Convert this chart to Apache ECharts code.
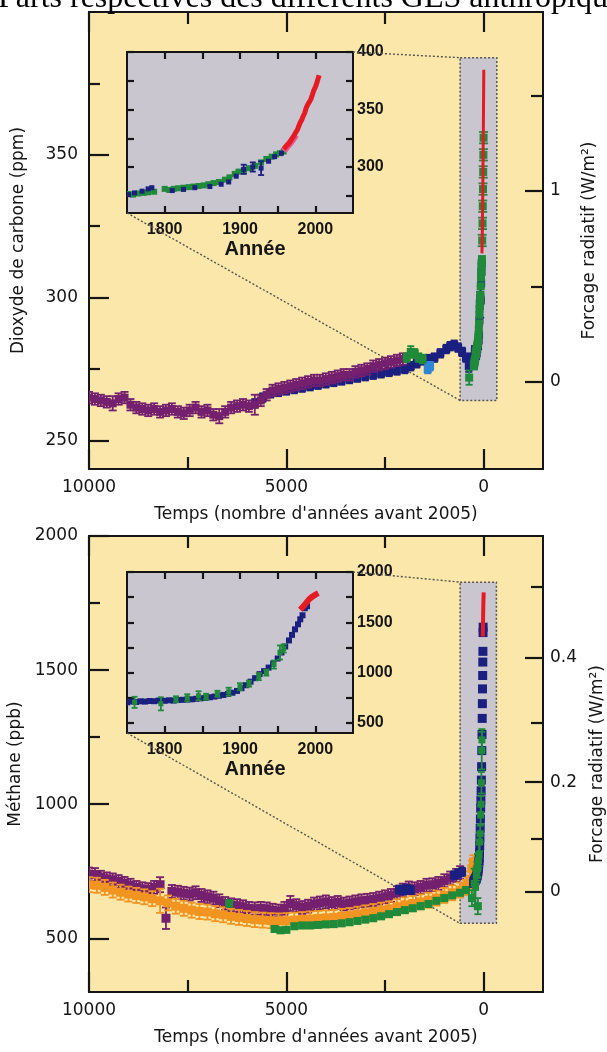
<!DOCTYPE html>
<html><head><meta charset="utf-8">
<script src="https://cdn.jsdelivr.net/npm/echarts@6/dist/echarts.min.js"></script>
<style>html,body{margin:0;padding:0;background:#fff}#c{width:607px;height:1052px}</style>
</head><body><div id="c"></div>
<script>
// ---------------- data ----------------
const titleText = 'Parts respectives des différents GES anthropiques';
const refYear = 2005;
const timeRange = [-1500, 10000];
const timeTicksMajor = [10000, 5000, 0];
const timeTicksMinor = [7500, 2500];
const timeLabels = [10000, 5000, 0];

const co2Range = [240, 400];
const co2TicksMajor = [250, 300, 350];
const co2TicksMinor = [275, 325, 375];
const co2ForcingRange = [-0.455, 1.937];
const co2ForcingMajor = [0, 1];
const co2ForcingMinor = [0.5, 1.5];

const ch4Range = [300, 2000];
const ch4TicksMajor = [500, 1000, 1500, 2000];
const ch4TicksMinor = [750, 1250, 1750];
const ch4ForcingValues = [0, 0.1, 0.2, 0.3, 0.4, 0.5];
const ch4ForcingAtPpb = [675, 873, 1082, 1302, 1545, 1810];

const insetYears = [1750, 2050];
const insetYearTicks = [1800, 1850, 1900, 1950, 2000];
const insetYearLabels = [1800, 1900, 2000];
const co2InsetRange = [260, 400];
const co2InsetTicks = [275, 300, 325, 350, 375, 400];
const co2InsetLabels = [300, 350, 400];
const ch4InsetRange = [400, 2000];
const ch4InsetTicks = [500, 750, 1000, 1250, 1500, 1750, 2000];
const ch4InsetLabels = [500, 1000, 1500, 2000];

const co2ZoomBox = [600, 384, -330, 264];   // BP, ppm
const ch4ZoomBox = [600, 1828, -320, 556];  // BP, ppb

// CO2, main panel: [years before 2005, ppm, error]
const co2MainPurple = [[10000,265,2],[9850,264.5,2],[9700,264,2],[9550,263.5,2],[9400,263,2.5],[9250,264.5,2],[9100,265,2],[8950,262.5,2],[8800,261.5,2],[8650,261,2],[8500,260.5,2],[8350,261,2],[8200,260,2],[8050,260.5,2],[7900,261,2],[7750,260,2],[7600,259.5,2],[7450,260.5,2],[7300,261.5,2],[7150,260,2],[7000,260.5,2],[6850,259,2],[6700,258.5,2.5],[6550,260,2],[6400,261.5,2],[6250,262,2],[6100,262.5,2],[5950,262,2],[5800,262.5,3.5],[5650,264,2],[5500,266,2],[5350,267.5,2],[5200,268,2],[5050,268.5,2],[4900,269,2],[4750,269.5,2],[4600,270,2],[4450,270.5,2],[4300,271,2],[4150,271,2],[4000,271.5,2],[3850,272,2],[3700,272.5,2],[3550,273,2],[3400,273,2],[3250,274,2],[3100,274.5,2],[2950,275,2],[2800,276,2],[2650,276.5,2],[2500,277,2],[2350,277.5,2],[2200,278,2],[2050,278.5,2]];
const co2MainNavy = [[5800,263,1.5],[5600,265,1.5],[5400,266.5,1.5],[5200,267,1.5],[5000,267.5,1.5],[4800,268,1.5],[4600,268.5,1.5],[4400,269,1.5],[4200,269.5,1.5],[4000,270,1.5],[3800,270.5,1.5],[3600,271,1.5],[3400,271.5,1.5],[3200,272,1.5],[3000,272.5,1.5],[2800,273,1.5],[2600,273.5,1.5],[2400,274,1.5],[2200,274.5,1.5],[2000,275,1.5],[1850,276,1.5],[1700,277,1.5],[1550,278,1.5],[1400,278.5,1.5],[1250,279,1.5],[1100,280.5,1.5],[950,282,1.5],[850,283,1.5],[750,283.5,1.5],[650,282.5,1.5],[550,281,1.5],[450,279,1.5],[380,276,2],[330,278,1.5],[280,279,1.5]];
const co2MainGreen = [[1950,279,1.5],[1850,281,2],[1750,280.5,1.5],[1650,279,1.5],[1550,278.5,1.5],[370,272,2.5]];
const co2MainLightBlue = [[1420,275,1.5],[1360,276,1.5]];
const co2MainGreenFirn = [[40,320,2],[32,326,2],[26,332,2],[20,338,2],[15,344,2],[10,350,2],[5,356,2]];

// CO2, inset: [year, ppm, error]
const co2InsetGreen = [[1752,276.5],[1758,276],[1765,277],[1772,277.5],[1778,278],[1786,278.5],[1800,281],[1806,280],[1812,281],[1818,281.5],[1825,282],[1832,282.5],[1838,283],[1845,283.5],[1852,284],[1858,285],[1865,286],[1872,287],[1880,289],[1886,291],[1893,294],[1898,296],[1905,297],[1912,299],[1920,301],[1928,304],[1935,307],[1942,309],[1948,311],[1953,312],[1958,313.5]];
const co2InsetNavy = [[1752,276],[1760,277.5],[1770,279],[1778,281],[1783,282],[1810,279.5],[1825,280.5],[1840,282],[1860,283],[1875,285],[1885,287],[1895,292],[1905,298,4],[1917,300,4],[1928,299,6],[1938,305],[1946,309],[1955,312]];
const co2InsetPink = [[1958,314],[1962,317.5],[1966,320.5],[1970,324],[1974,328]];
const co2InsetRed = [[1958,315.5],[1960,316.9],[1962,318.5],[1964,319.6],[1966,321.4],[1968,323],[1970,325.7],[1972,327.5],[1974,330.2],[1976,332.1],[1978,335.4],[1980,338.7],[1982,341.1],[1984,344.4],[1986,347.2],[1988,351.6],[1990,354.4],[1992,356.4],[1994,358.8],[1996,362.6],[1998,366.7],[2000,369.4],[2002,373.2],[2004,377.5],[2005,379.8]];

// CH4, main panel: [years before 2005, ppb, error]
const ch4MainPurple = [[10000,740,24],[9850,738,24],[9700,728,24],[9550,722,24],[9400,718,24],[9250,712,24],[9100,705,24],[8950,698,24],[8800,690,24],[8650,685,24],[8500,682,24],[8350,690,24],[8200,700,28],[8050,575,40],[7900,675,24],[7750,672,24],[7600,668,24],[7450,665,24],[7300,670,24],[7150,660,24],[7000,655,24],[6850,650,24],[6700,640,24],[6550,630,24],[6400,625,24],[6250,622,24],[6100,618,24],[5950,612,24],[5800,610,24],[5650,612,24],[5500,610,24],[5350,605,24],[5200,602,24],[5050,612,24],[4900,630,28],[4750,622,24],[4600,615,24],[4450,620,24],[4300,628,24],[4150,632,24],[4000,636,24],[3850,630,24],[3700,634,24],[3550,628,24],[3400,632,24],[3250,636,24],[3100,640,24],[2950,642,24],[2800,645,24],[2650,650,24],[2500,655,24],[2350,660,24],[2200,670,24],[2050,680,24],[1900,688,24],[1750,685,24],[1600,690,24],[1450,698,24],[1300,700,24],[1150,705,24],[1000,715,24],[850,725,24],[700,735,24],[600,745,24]];
const ch4MainOrange = [[10000,700,28],[9800,698,28],[9600,690,28],[9400,680,28],[9200,672,28],[9000,665,28],[8800,660,28],[8600,655,28],[8400,648,28],[8200,640,45],[8000,632,28],[7800,620,28],[7600,612,28],[7400,605,28],[7200,600,28],[7000,598,28],[6800,592,28],[6600,588,28],[6400,582,28],[6200,578,28],[6000,574,28],[5800,570,28],[5600,568,28],[5400,566,28],[5200,565,28],[5000,566,28],[4800,568,28],[4600,570,28],[4400,572,28],[4200,574,28],[4000,576,28],[3800,578,28],[3600,582,28],[3400,585,28],[3200,590,28],[3000,595,28],[2800,600,28],[2600,605,28],[2400,610,28],[2200,618,28],[2000,625,28],[1800,630,28],[1600,636,28],[1400,642,28],[1200,650,28],[1000,660,28],[800,670,28],[600,680,28],[450,690,28],[400,700,28],[350,720,30],[300,760,30],[260,785,25]];
const ch4MainGreen = [[6450,630,12],[5300,535,10],[5150,530,10],[5000,532,10],[4800,545,10],[4600,548,10],[4400,548,10],[4200,550,10],[4000,552,10],[3800,553,10],[3600,556,10],[3400,560,10],[3200,565,10],[3000,570,10],[2800,575,10],[2600,582,10],[2400,590,10],[2200,598,10],[2000,605,10],[1800,612,10],[1600,620,10],[1400,628,10],[1200,640,10],[1000,650,10],[800,660,10],[600,670,10],[450,680,10],[300,650,30],[150,620,30]];
const ch4MainNavy = [[2150,682,15],[2050,678,15],[1950,685,15],[1850,680,15],[750,735,15],[650,742,15],[550,748,15]];

// CH4, inset: [year, ppb, error]
const ch4InsetNavy = [[1750,705],[1756,712],[1762,708],[1768,715],[1774,712],[1780,718],[1786,716],[1792,722],[1800,720],[1806,725],[1812,722],[1818,728],[1824,730],[1830,732],[1836,735],[1842,740],[1848,745],[1854,748],[1860,755],[1866,762],[1872,770],[1878,778],[1884,788],[1890,800],[1896,818],[1902,845],[1908,875],[1914,910],[1920,945],[1926,985],[1932,1015],[1938,1050],[1944,1090],[1950,1140],[1955,1200],[1960,1260],[1965,1320],[1969,1375],[1973,1430],[1977,1480],[1980,1530],[1983,1570],[1986,1640],[1989,1660]];
const ch4InsetGreen = [[1760,705,55],[1795,690,65],[1815,735,30],[1830,750,35],[1845,770,45],[1855,760,30],[1870,790,30],[1885,810,40],[1900,860,35],[1912,890,30],[1925,960,35],[1935,1000,30],[1945,1080,40],[1953,1200,70],[1958,1240,40]];
const ch4InsetRed = [[1980,1625],[1983,1650],[1986,1675],[1988,1695],[1990,1712],[1992,1730],[1994,1745],[1996,1755],[1998,1765],[2000,1775],[2002,1785],[2004,1790]];

// ---------------- colours / helpers ----------------
const C = {purple:'#74206f', navy:'#1b1f80', green:'#1e8a3a', red:'#e51b24', pink:'#e85a8c',
  orange:'#f29420', lblue:'#2f86d6', ink:'#151515', plot:'#fae7a9', inset:'#c9c6d0'};
const sans = '"DejaVu Sans", sans-serif';
const bold = '"Liberation Sans", Arial, sans-serif';

function toBP(arr) { return arr.map(d => [refYear - d[0], d[1], d[2] || 0]); }
function norm(arr) { return arr.map(d => [d[0], d[1], d[2] || 0]); }

function errSeries(name, data, xi, yi, color, size, cap, z) {
  return {
    type: 'custom', name, xAxisIndex: xi, yAxisIndex: yi, z: z || 3, clip: true,
    data: data, encode: {x: 0, y: 1},
    renderItem: function (params, api) {
      const x = api.value(0), y = api.value(1), e = api.value(2);
      const p = api.coord([x, y]);
      const ch = [];
      if (e > 0) {
        const t = api.coord([x, y + e]), b = api.coord([x, y - e]);
        const st = {stroke: color, lineWidth: 1.8};
        ch.push({type:'line', shape:{x1:p[0], y1:t[1], x2:p[0], y2:b[1]}, style: st});
        ch.push({type:'line', shape:{x1:p[0]-cap/2, y1:t[1], x2:p[0]+cap/2, y2:t[1]}, style: st});
        ch.push({type:'line', shape:{x1:p[0]-cap/2, y1:b[1], x2:p[0]+cap/2, y2:b[1]}, style: st});
      }
      ch.push({type:'rect', shape:{x:p[0]-size/2, y:p[1]-size/2, width:size, height:size}, style:{fill: color}});
      return {type:'group', children: ch};
    }
  };
}
function boxSeries(box, xi, yi) {
  return {
    type:'custom', xAxisIndex: xi, yAxisIndex: yi, z: 1, clip: true,
    data: [box], encode: {x:[0,2], y:[1,3]},
    renderItem: function (params, api) {
      const a = api.coord([api.value(0), api.value(1)]);
      const b = api.coord([api.value(2), api.value(3)]);
      return {type:'rect', shape:{x:a[0], y:a[1], width:b[0]-a[0], height:b[1]-a[1]},
        style:{fill: C.inset, stroke:'#555', lineWidth:1.5, lineDash:[2,2]}};
    }
  };
}
function lineSeries(data, xi, yi, color, w, z) {
  return {type:'line', xAxisIndex: xi, yAxisIndex: yi, data: data.map(d => [d[0], d[1]]),
    showSymbol:false, symbol:'none', lineStyle:{color, width:w}, z: z || 5, clip: true};
}

function tickAxis(grid, pos, range, ticks, len, extra) {
  return Object.assign({
    gridIndex: grid, type:'value', position: pos, min: range[0], max: range[1],
    axisLine:{show:false, onZero:false}, splitLine:{show:false},
    axisTick:{show:true, inside:true, length:len, customValues: ticks, lineStyle:{color:C.ink, width:2.2}},
    axisLabel:{show:false}
  }, extra || {});
}
const plain = v => String(v);
function labelCfg(values, font, size, weight, margin, formatter) {
  return {show:true, customValues: values, fontFamily: font, fontSize: size, fontWeight: weight,
    color: C.ink, margin: margin, formatter: formatter || plain};
}

const xAxes = [], yAxes = [];
function mainAxes(grid, yRange, yMaj, yMin, yName, rRange, rMaj, rMin, rLabels, rFmt, rGap) {
  const tName = 'Temps (nombre d\'années avant 2005)';
  xAxes.push(tickAxis(grid, 'bottom', timeRange, timeTicksMajor, 20, {inverse:true,
    axisLabel: labelCfg(timeLabels, sans, 17, 'normal', 10),
    name: tName, nameLocation:'middle', nameGap: 37,
    nameTextStyle:{fontFamily: sans, fontSize: 17, color: C.ink, verticalAlign:'top'}}));
  xAxes.push(tickAxis(grid, 'bottom', timeRange, timeTicksMinor, 12, {inverse:true}));
  xAxes.push(tickAxis(grid, 'top', timeRange, timeTicksMajor, 20, {inverse:true}));
  xAxes.push(tickAxis(grid, 'top', timeRange, timeTicksMinor, 12, {inverse:true}));
  yAxes.push(tickAxis(grid, 'left', yRange, yMaj, 20, {
    axisLabel: labelCfg(yMaj, sans, 17, 'normal', 11),
    name: yName, nameLocation:'middle', nameGap: 62, nameRotate: 90,
    nameTextStyle:{fontFamily: sans, fontSize: 17, color: C.ink}}));
  yAxes.push(tickAxis(grid, 'left', yRange, yMin, 11));
  yAxes.push(tickAxis(grid, 'right', rRange, rMaj, 18, {
    axisLabel: labelCfg(rLabels, sans, 17, 'normal', 7, rFmt),
    name: 'Forcage radiatif (W/m²)', nameLocation:'middle', nameGap: rGap, nameRotate: 90,
    nameTextStyle:{fontFamily: sans, fontSize: 17, color: C.ink}}));
  yAxes.push(tickAxis(grid, 'right', rRange, rMin, 12));
}
function insetAxes(grid, yRange, yTicks, yLabels) {
  xAxes.push(tickAxis(grid, 'bottom', insetYears, insetYearTicks, 7, {
    axisLabel: labelCfg(insetYearLabels, bold, 16, 'bold', 9),
    name: 'Année', nameLocation:'middle', nameGap: 26,
    nameTextStyle:{fontFamily: bold, fontSize: 20, fontWeight:'bold', color: C.ink, verticalAlign:'top', padding:[0,0,0,30]}}));
  xAxes.push(tickAxis(grid, 'top', insetYears, insetYearTicks, 7));
  yAxes.push(tickAxis(grid, 'right', yRange, yTicks, 7, {
    axisLabel: labelCfg(yLabels, bold, 16, 'bold', 4)}));
  yAxes.push(tickAxis(grid, 'left', yRange, yTicks, 7));
}

// axis index layout: grid0 -> x0..3,y0..3 ; grid1 -> x4,5 y4,5 ; grid2 -> x6..9,y6..9 ; grid3 -> x10,11 y10,11
mainAxes(0, co2Range, co2TicksMajor, co2TicksMinor, 'Dioxyde de carbone (ppm)',
  co2ForcingRange, co2ForcingMajor, co2ForcingMinor, co2ForcingMajor, null, 38);
insetAxes(1, co2InsetRange, co2InsetTicks, co2InsetLabels);
const ch4Fmt = v => { const i = ch4ForcingAtPpb.indexOf(v); return i >= 0 ? String(ch4ForcingValues[i]) : ''; };
mainAxes(2, ch4Range, ch4TicksMajor, ch4TicksMinor, 'Méthane (ppb)',
  ch4Range, [ch4ForcingAtPpb[0], ch4ForcingAtPpb[2], ch4ForcingAtPpb[4]],
  [ch4ForcingAtPpb[1], ch4ForcingAtPpb[3], ch4ForcingAtPpb[5]],
  [ch4ForcingAtPpb[0], ch4ForcingAtPpb[2], ch4ForcingAtPpb[4]], ch4Fmt, 46);
insetAxes(3, ch4InsetRange, ch4InsetTicks, ch4InsetLabels);

const gridStyle = {show:true, borderColor: C.ink, borderWidth: 2, containLabel:false, outerBoundsMode:'none'};
const grids = [
  Object.assign({left: 89, top: 12, width: 454, height: 457, backgroundColor: C.plot}, gridStyle),
  Object.assign({left: 127, top: 52, width: 226, height: 161, backgroundColor: C.inset}, gridStyle),
  Object.assign({left: 89, top: 536, width: 454, height: 456, backgroundColor: C.plot}, gridStyle),
  Object.assign({left: 127, top: 572, width: 226, height: 161, backgroundColor: C.inset}, gridStyle)
];

const series = [
  // CO2 main
  boxSeries(co2ZoomBox, 0, 0),
  errSeries('co2 navy', norm(co2MainNavy), 0, 0, C.navy, 8, 7),
  errSeries('co2 purple', norm(co2MainPurple), 0, 0, C.purple, 8, 8),
  errSeries('co2 green', norm(co2MainGreen), 0, 0, C.green, 8, 7),
  errSeries('co2 lblue', norm(co2MainLightBlue), 0, 0, C.lblue, 8, 7),
  errSeries('co2 spike navy', toBP(co2InsetNavy), 0, 0, C.navy, 8, 7),
  errSeries('co2 spike green', toBP(co2InsetGreen), 0, 0, C.green, 8, 7),
  errSeries('co2 spike firn', norm(co2MainGreenFirn), 0, 0, C.green, 8, 9),
  lineSeries(toBP(co2InsetRed), 0, 0, C.red, 3, 6),
  // CO2 inset
  errSeries('i co2 green', norm(co2InsetGreen), 4, 4, C.green, 6, 5),
  errSeries('i co2 navy', norm(co2InsetNavy), 4, 4, C.navy, 5, 6),
  lineSeries(co2InsetPink, 4, 4, C.pink, 7, 5),
  lineSeries(co2InsetRed, 4, 4, C.red, 5, 6),
  // CH4 main
  boxSeries(ch4ZoomBox, 6, 6),
  errSeries('ch4 purple', norm(ch4MainPurple), 6, 6, C.purple, 9, 8),
  errSeries('ch4 orange', norm(ch4MainOrange), 6, 6, C.orange, 9, 8),
  errSeries('ch4 green', norm(ch4MainGreen), 6, 6, C.green, 8, 7),
  errSeries('ch4 navy', norm(ch4MainNavy), 6, 6, C.navy, 8, 7),
  errSeries('ch4 spike navy', toBP(ch4InsetNavy), 6, 6, C.navy, 9, 8),
  errSeries('ch4 spike green', toBP(ch4InsetGreen), 6, 6, C.green, 7, 7),
  lineSeries(toBP(ch4InsetRed), 6, 6, C.red, 4, 6),
  // CH4 inset
  errSeries('i ch4 navy', norm(ch4InsetNavy), 10, 10, C.navy, 6, 6),
  errSeries('i ch4 green', norm(ch4InsetGreen), 10, 10, C.green, 5, 6),
  lineSeries(ch4InsetRed, 10, 10, C.red, 6, 6)
];

const chart = echarts.init(document.getElementById('c'), null, {renderer:'canvas'});
chart.setOption({
  animation: false, backgroundColor: '#fff',
  grid: grids, xAxis: xAxes, yAxis: yAxes, series: series
});

// connectors between insets and zoom boxes (pixel positions from the library's scales)
function connectors(insetX, insetY, insetRange, mainX, mainY, box) {
  const a = chart.convertToPixel({xAxisIndex: insetX, yAxisIndex: insetY}, [insetYears[1], insetRange[1]]);
  const b = chart.convertToPixel({xAxisIndex: mainX, yAxisIndex: mainY}, [box[0], box[1]]);
  const c = chart.convertToPixel({xAxisIndex: insetX, yAxisIndex: insetY}, [insetYears[0], insetRange[0]]);
  const d = chart.convertToPixel({xAxisIndex: mainX, yAxisIndex: mainY}, [box[0], box[3]]);
  const st = {stroke:'#555', lineWidth:1.4, lineDash:[2,2]};
  return [
    {type:'line', z: 1, shape:{x1:a[0], y1:a[1], x2:b[0], y2:b[1]}, style: st},
    {type:'line', z: 1, shape:{x1:c[0], y1:c[1], x2:d[0], y2:d[1]}, style: st}
  ];
}
const gfx = [].concat(
  connectors(4, 4, co2InsetRange, 0, 0, co2ZoomBox),
  connectors(10, 10, ch4InsetRange, 6, 6, ch4ZoomBox),
  [{type:'text', z: 10, x: -2, y: -1, style:{text: titleText, font: '32px "Liberation Serif", serif',
    fill:'#000', verticalAlign:'middle', align:'left'}}]
);
chart.setOption({graphic: {elements: gfx}});
</script>
</body></html>
